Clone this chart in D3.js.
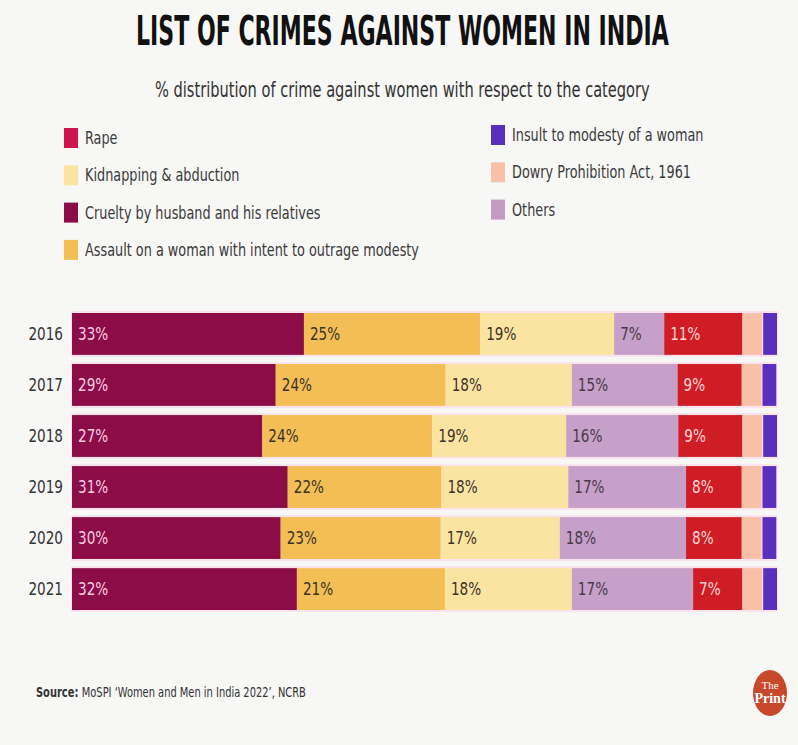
<!DOCTYPE html>
<html>
<head>
<meta charset="utf-8">
<script src="https://cdn.jsdelivr.net/npm/d3@7"></script>
<style>
  body { margin: 0; background: #f7f7f5; }
  svg text { font-family: "DejaVu Sans Condensed", "Liberation Sans", sans-serif; }
</style>
</head>
<body>
<div id="chart"></div>
<script>
// values (% share of each crime category per year)
var years = ["2016", "2017", "2018", "2019", "2020", "2021"];
var cruelty = [32.9, 28.9, 27.0, 30.6, 29.6, 31.9];
var assault = [25.0, 24.1, 24.1, 21.8, 22.7, 21.0];
var kidnapping = [19.0, 17.9, 19.0, 18.0, 16.9, 18.0];
var others = [7.1, 15.0, 15.9, 16.7, 17.9, 17.2];
var rape = [11.1, 9.1, 9.1, 7.9, 7.9, 7.0];
var dowry = [2.8, 2.8, 2.8, 2.8, 2.8, 2.8];
var insult = [2.1, 2.1, 2.1, 2.1, 2.1, 2.1];

var keys = ["cruelty", "assault", "kidnapping", "others", "rape", "dowry", "insult"];
var labelled = ["cruelty", "assault", "kidnapping", "others", "rape"];

var legendLeft = [
  { key: "rape", text: "Rape" },
  { key: "kidnapping", text: "Kidnapping & abduction" },
  { key: "cruelty", text: "Cruelty by husband and his relatives" },
  { key: "assault", text: "Assault on a woman with intent to outrage modesty" }
];
var legendRight = [
  { key: "insult", text: "Insult to modesty of a woman" },
  { key: "dowry", text: "Dowry Prohibition Act, 1961" },
  { key: "others", text: "Others" }
];

var barColor = {
  cruelty: "#8c0c48", assault: "#f4be57", kidnapping: "#fbe4a2", others: "#c6a0c8",
  rape: "#d01d25", dowry: "#f8c0a7", insult: "#5a2fbd"
};
var legendColor = Object.assign({}, barColor, { rape: "#cd1350", others: "#c39ac1" });
var labelColor = {
  cruelty: "#f7cde0", assault: "#3b3328", kidnapping: "#3b3328", others: "#4a3a48", rape: "#f8d6d6"
};

var W = 798, H = 745;
var narrow = 0.84; // squeeze the condensed face a bit more

var svg = d3.select("#chart").append("svg")
  .attr("width", W)
  .attr("height", H);

svg.append("rect").attr("width", W).attr("height", H).attr("fill", "#f7f7f5");

// squeeze a text horizontally so it spans `width` px from (x0, y0)
function fitText(sel, x0, y0, width) {
  var w = sel.node().getComputedTextLength();
  sel.attr("transform", `translate(${x0}, ${y0}) scale(${width / w}, 1)`);
}

// title + subtitle
var title = svg.append("text")
  .style("font-size", "40px").style("font-weight", "bold")
  .attr("fill", "#111")
  .text("LIST OF CRIMES AGAINST WOMEN IN INDIA");
fitText(title, 136, 45, 533);

var subtitle = svg.append("text")
  .style("font-size", "21px")
  .attr("fill", "#333")
  .text("% distribution of crime against women with respect to the category");
fitText(subtitle, 155, 97, 495);

// legend
function drawLegend(items, x0, y0, step) {
  var g = svg.append("g").attr("transform", `translate(${x0}, ${y0})`);
  var row = g.selectAll(".leg").data(items).enter().append("g")
    .attr("class", "leg")
    .attr("transform", (d, i) => `translate(0, ${i * step})`);
  row.append("rect")
    .attr("x", 0).attr("y", -10)
    .attr("width", 14).attr("height", 20)
    .attr("fill", d => legendColor[d.key]);
  row.append("text")
    .attr("transform", `translate(21, 6) scale(${narrow}, 1)`)
    .style("font-size", "17px")
    .attr("fill", "#3a3a3a")
    .text(d => d.text);
}
drawLegend(legendLeft, 64, 138, 37.3);
drawLegend(legendRight, 491, 135, 37.3);

// bars
var x = d3.scaleLinear().domain([0, 100]).range([72, 777]);
var y = d3.scaleBand().domain(years).range([313, 610]).paddingInner(0.18);

var table = years.map((yr, i) => ({
  year: yr, cruelty: cruelty[i], assault: assault[i], kidnapping: kidnapping[i],
  others: others[i], rape: rape[i], dowry: dowry[i], insult: insult[i]
}));
var series = d3.stack().keys(keys)(table);

// faint pink halo around each bar row
svg.selectAll(".halo").data(table).enter().append("rect")
  .attr("class", "halo")
  .attr("x", x(0) - 1)
  .attr("y", d => y(d.year) - 2)
  .attr("width", d => x(d3.sum(keys, k => d[k])) - x(0) + 2)
  .attr("height", y.bandwidth() + 4)
  .attr("fill", "#fbe3ee");

var layer = svg.selectAll(".layer").data(series).enter().append("g")
  .attr("class", "layer")
  .attr("fill", s => barColor[s.key]);

layer.selectAll("rect").data(s => s.map(d => Object.assign(d, { key: s.key }))).enter().append("rect")
  .attr("x", d => x(d[0]) + (d.key === "insult" ? 1 : 0))
  .attr("y", d => y(d.data.year))
  .attr("width", d => x(d[1]) - x(d[0]) - (d.key === "insult" ? 1 : 0))
  .attr("height", y.bandwidth());

var lab = svg.selectAll(".pct").data(series.filter(s => labelled.includes(s.key))).enter().append("g")
  .attr("class", "pct");

lab.selectAll("text").data(s => s).enter().append("text")
  .attr("transform", d => `translate(${x(d[0]) + 6}, ${y(d.data.year) + y.bandwidth() / 2 + 6}) scale(${narrow}, 1)`)
  .style("font-size", "18px")
  .attr("fill", d => labelColor[d.key])
  .text(d => d3.format(".0f")(d[1] - d[0]) + "%");

// year axis
var yAxis = svg.append("g")
  .attr("transform", "translate(63, 0)")
  .call(d3.axisLeft(y).tickSize(0).tickPadding(0));
yAxis.select(".domain").remove();
yAxis.selectAll("text")
  .attr("transform", `scale(${narrow}, 1)`)
  .style("font-size", "18px")
  .style("font-family", "'DejaVu Sans Condensed', sans-serif")
  .attr("fill", "#333");

// source
var src = svg.append("text")
  .style("font-size", "14.5px")
  .attr("fill", "#333");
src.append("tspan").style("font-weight", "bold").text("Source: ");
src.append("tspan").text("MoSPI \u2018Women and Men in India 2022\u2019, NCRB");
fitText(src, 36, 697, 270);

// logo
var logo = svg.append("g").attr("transform", "translate(770, 693)");
logo.append("ellipse").attr("rx", 17).attr("ry", 23).attr("fill", "#c8482c");
logo.append("text").attr("y", -4).attr("text-anchor", "middle")
  .style("font-family", "'Liberation Serif', 'DejaVu Serif', serif")
  .style("font-size", "11px").attr("fill", "#fff").text("The");
logo.append("text").attr("y", 10).attr("text-anchor", "middle")
  .style("font-family", "'Liberation Serif', 'DejaVu Serif', serif")
  .style("font-size", "14px").style("font-weight", "bold")
  .attr("fill", "#fff").text("Print");
</script>
</body>
</html>
